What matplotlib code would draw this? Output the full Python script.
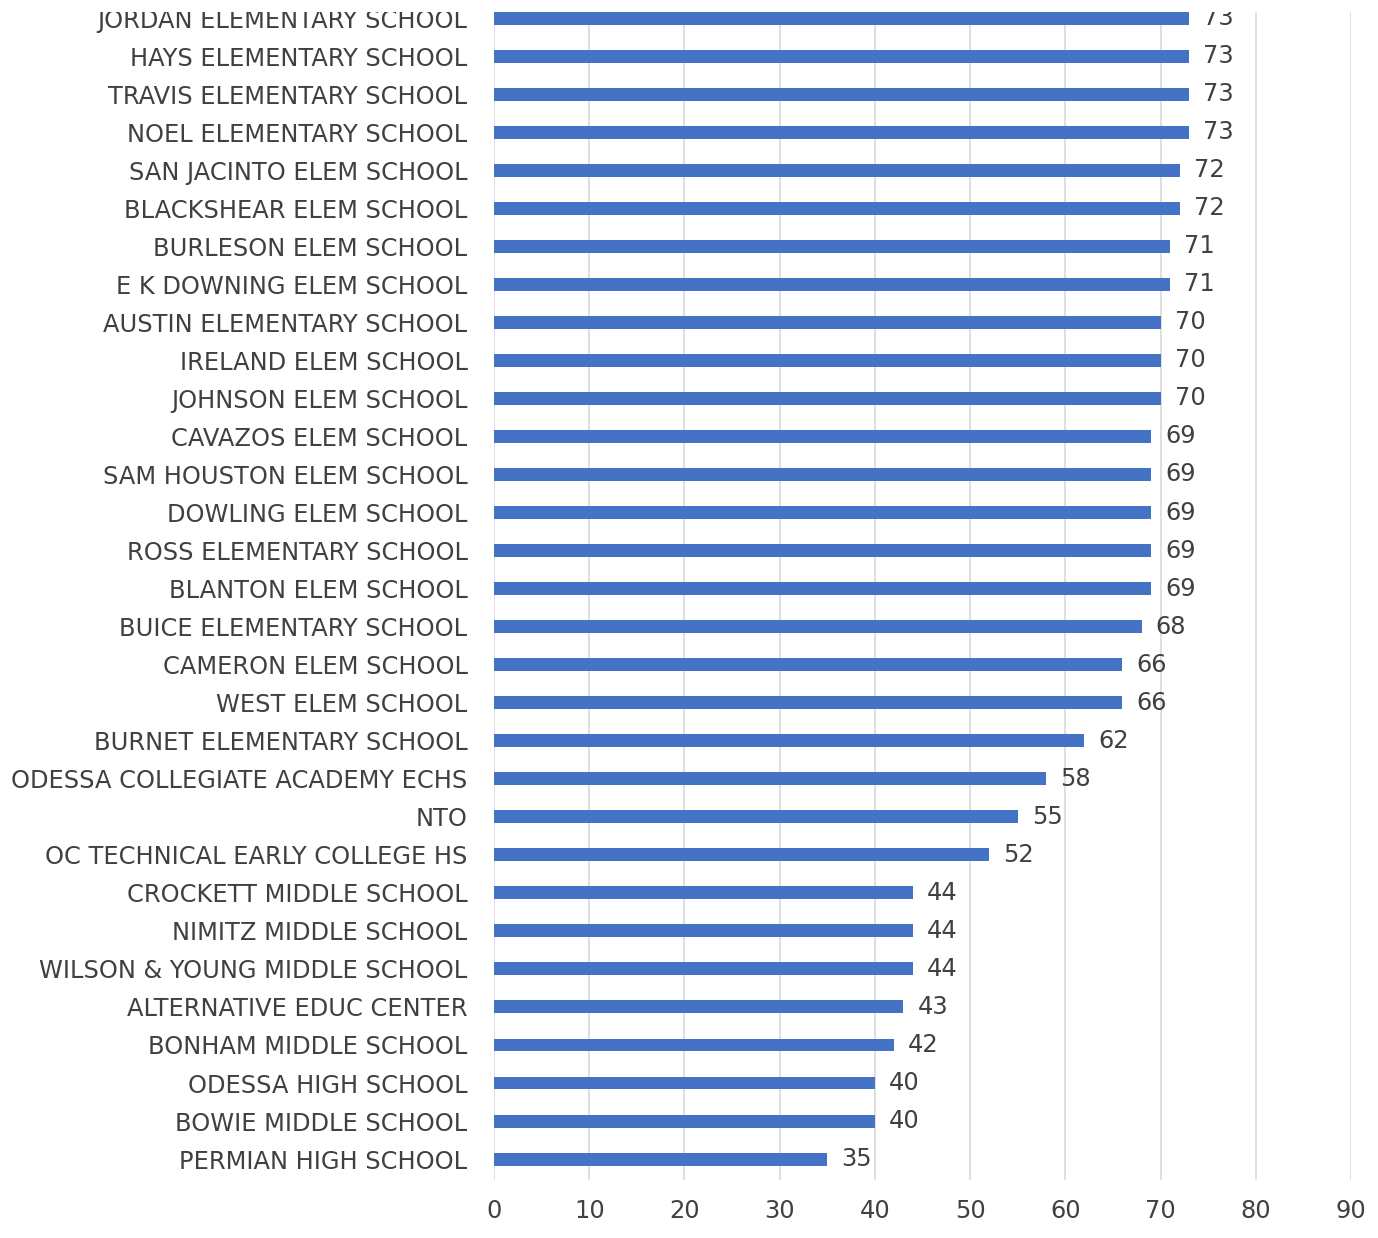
import matplotlib
matplotlib.use("Agg")
import matplotlib.pyplot as plt
from matplotlib.patches import Rectangle

schools = [
    "JORDAN ELEMENTARY SCHOOL", "HAYS ELEMENTARY SCHOOL", "TRAVIS ELEMENTARY SCHOOL",
    "NOEL ELEMENTARY SCHOOL", "SAN JACINTO ELEM SCHOOL", "BLACKSHEAR ELEM SCHOOL",
    "BURLESON ELEM SCHOOL", "E K DOWNING ELEM SCHOOL", "AUSTIN ELEMENTARY SCHOOL",
    "IRELAND ELEM SCHOOL", "JOHNSON ELEM SCHOOL", "CAVAZOS ELEM SCHOOL",
    "SAM HOUSTON ELEM SCHOOL", "DOWLING ELEM SCHOOL", "ROSS ELEMENTARY SCHOOL",
    "BLANTON ELEM SCHOOL", "BUICE ELEMENTARY SCHOOL", "CAMERON ELEM SCHOOL",
    "WEST ELEM SCHOOL", "BURNET ELEMENTARY SCHOOL", "ODESSA COLLEGIATE ACADEMY ECHS",
    "NTO", "OC TECHNICAL EARLY COLLEGE HS", "CROCKETT MIDDLE SCHOOL",
    "NIMITZ MIDDLE SCHOOL", "WILSON & YOUNG MIDDLE SCHOOL", "ALTERNATIVE EDUC CENTER",
    "BONHAM MIDDLE SCHOOL", "ODESSA HIGH SCHOOL", "BOWIE MIDDLE SCHOOL",
    "PERMIAN HIGH SCHOOL",
]
values = [73, 73, 73, 73, 72, 72, 71, 71, 70, 70, 70, 69, 69, 69, 69, 69, 68,
          66, 66, 62, 58, 55, 52, 44, 44, 44, 43, 42, 40, 40, 35]
xticks = [0, 10, 20, 30, 40, 50, 60, 70, 80, 90]

W, H = 1378, 1238
fig = plt.figure(figsize=(W / 100, H / 100), dpi=100)
ax = fig.add_axes([494 / W, 58 / H, (1351 - 494) / W, (1180 - 12) / H])

n = len(schools)
ypos = list(range(n - 1, -1, -1))
text_color = "#404040"
fs = 17.4

ax.barh(ypos, values, height=0.34, color="#4472C4", zorder=3)
for y, v in zip(ypos, values):
    ax.text(v + 1.5, y, str(v), va="center", ha="left", fontsize=fs, color=text_color)

ax.set_xlim(0, 90)
ax.set_ylim(-0.55, n - 1 + 0.16)
ax.set_xticks(xticks)
ax.set_xticklabels([str(t) for t in xticks])
ax.set_yticks(ypos)
ax.set_yticklabels(schools)
ax.tick_params(axis="both", length=0, labelsize=fs, colors=text_color)
ax.tick_params(axis="y", pad=19)
ax.tick_params(axis="x", pad=14)
for s in ax.spines.values():
    s.set_visible(False)
ax.grid(axis="x", color="#d9d9d9", linewidth=1.2, zorder=0)
ax.set_axisbelow(True)

# crop-like mask at top
fig.patches.append(Rectangle((0, 1 - 12 / H), 1, 12 / H, transform=fig.transFigure,
                             facecolor="white", edgecolor="none", zorder=10))

fig.savefig("out.png", dpi=100, facecolor="white")
